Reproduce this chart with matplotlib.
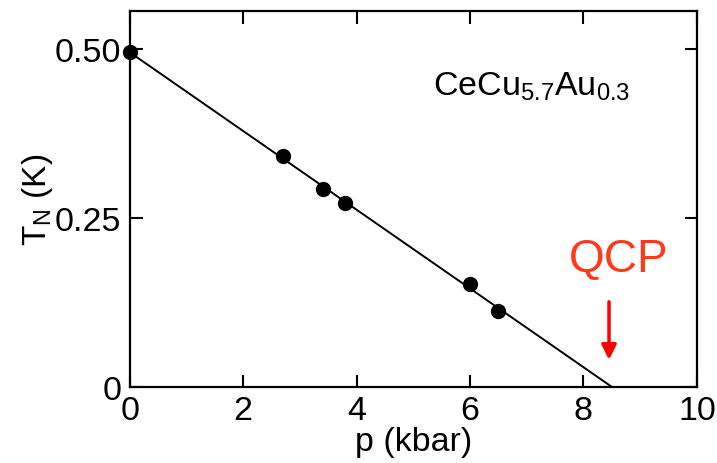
import matplotlib
matplotlib.use('Agg')
import matplotlib.pyplot as plt
import numpy as np

plt.rcParams['font.family'] = ['Liberation Sans', 'DejaVu Sans']
plt.rcParams['mathtext.fontset'] = 'custom'
plt.rcParams['mathtext.rm'] = 'Liberation Sans'
plt.rcParams['mathtext.it'] = 'Liberation Sans'

# data
pressure = [0.0, 2.7, 3.4, 3.8, 6.0, 6.5]
t_neel = [0.495, 0.342, 0.293, 0.272, 0.152, 0.112]
fit_p = [0.0, 8.5]
fit_t = [0.495, 0.0]
qcp_p = 8.45

fig = plt.figure(figsize=(7.17, 4.64), dpi=100)
ax = fig.add_axes([0.181, 0.164, 0.791, 0.810])

ax.plot(fit_p, fit_t, color='black', lw=1.4, zorder=2)
ax.plot(pressure, t_neel, 'o', color='black', ms=10, zorder=3, clip_on=False)

ax.set_xlim(0, 10)
ax.set_ylim(0, 0.556)
ax.set_xticks([0, 2, 4, 6, 8, 10])
ax.set_yticks([0, 0.25, 0.5])
ax.set_yticklabels(['0', '0.25', '0.50'])

ax.tick_params(direction='in', length=9, width=1.5, labelsize=24.5,
               top=True, right=True, pad=6)
for s in ax.spines.values():
    s.set_linewidth(1.6)

ax.set_xlabel('p (kbar)', fontsize=24.5, labelpad=0)
ax.set_ylabel(r'T$_\mathrm{N}$ (K)', fontsize=24, labelpad=0)

ax.text(0.535, 0.80, r'CeCu$_{5.7}$Au$_{0.3}$', transform=ax.transAxes,
        fontsize=24.5, ha='left', va='center')

ax.text(8.62, 0.172, 'QCP', color='#ff3a1a', fontsize=33,
        ha='center', va='baseline')
ax.annotate('', xy=(qcp_p, 0.036), xytext=(qcp_p, 0.13),
            arrowprops=dict(arrowstyle='-|>', color='#ff0000', lw=2.5,
                            mutation_scale=22))

fig.savefig('out.png', dpi=100)
